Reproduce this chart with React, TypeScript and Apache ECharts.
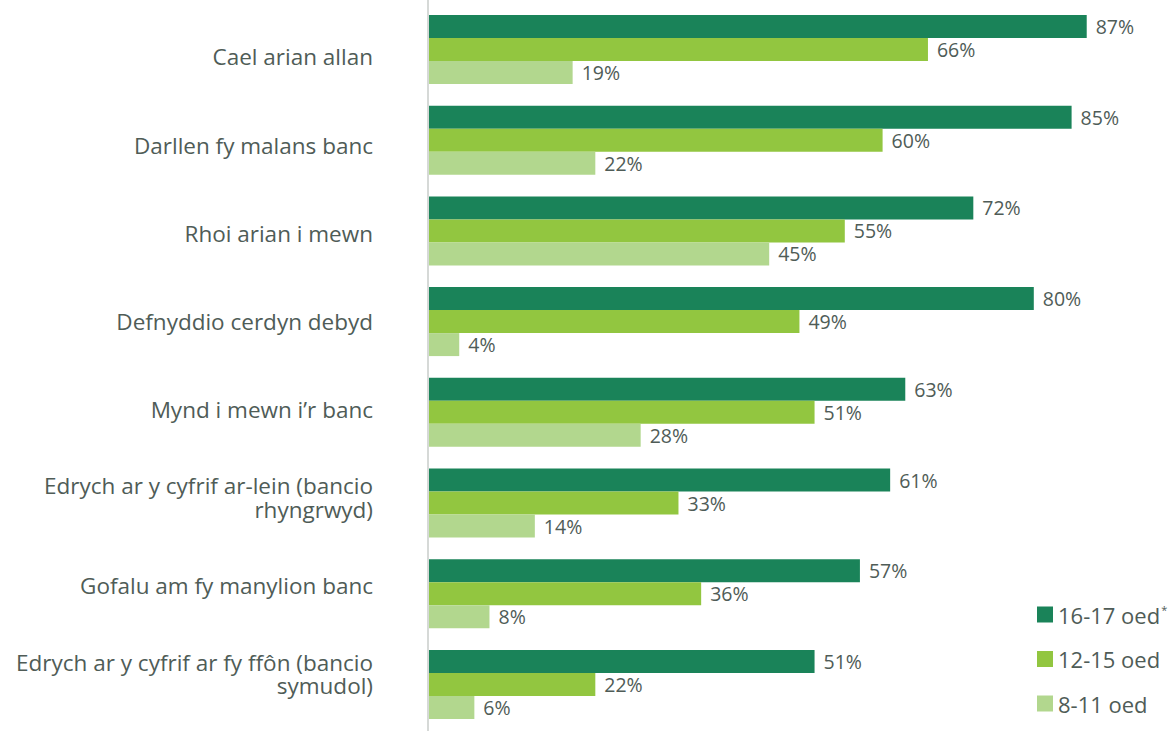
import React, { useEffect, useRef } from "react";
import * as echarts from "echarts";

const categories = [
  "Cael arian allan",
  "Darllen fy malans banc",
  "Rhoi arian i mewn",
  "Defnyddio cerdyn debyd",
  "Mynd i mewn i’r banc",
  "Edrych ar y cyfrif ar-lein (bancio\nrhyngrwyd)",
  "Gofalu am fy manylion banc",
  "Edrych ar y cyfrif ar fy ffôn (bancio\nsymudol)",
];
const seriesNames = ["16-17 oed", "12-15 oed", "8-11 oed"];
const age1617 = [87, 85, 72, 80, 63, 61, 57, 51];
const age1215 = [66, 60, 55, 49, 51, 33, 36, 22];
const age811 = [19, 22, 45, 4, 28, 14, 8, 6];
const colors = ["#1a8359", "#92c640", "#b2d78e"];

const FONT = "'Open Sans', sans-serif";
const TEXT = "#4f5c57";

export default function App() {
  const ref = useRef<HTMLDivElement>(null);
  useEffect(() => {
    const chart = echarts.init(ref.current!, undefined, { renderer: "svg" });
    const values = [age1617, age1215, age811];
    const gridRight = 1172 - 429 - 90 * 7.56;
    chart.setOption({
      animation: false,
      textStyle: { fontFamily: FONT },
      grid: [
        { left: 429, right: gridRight, top: 4.1, bottom: 1.2, containLabel: false },
        { left: 429, right: gridRight, top: 12.9, bottom: 13.1, containLabel: false },
      ],
      xAxis: [
        { type: "value", min: 0, max: 90, show: false, gridIndex: 0 },
        { type: "value", min: 0, max: 90, show: false, gridIndex: 1 },
      ],
      yAxis: [
        {
          type: "category",
          gridIndex: 0,
          data: categories,
          inverse: true,
          axisLine: { show: false },
          axisTick: { show: false },
          axisLabel: { show: false },
        },
        {
          type: "category",
          gridIndex: 1,
          data: categories,
          inverse: true,
          axisLine: { show: false },
          axisTick: { show: false },
          splitLine: { show: false },
          axisLabel: {
            margin: 56,
            fontSize: 22.5,
            lineHeight: 23.5,
            color: TEXT,
            fontFamily: FONT,
            align: "right",
          },
        },
      ],
      legend: {
        orient: "vertical",
        left: 1032,
        top: 598.5,
        itemWidth: 16,
        itemHeight: 16,
        itemGap: 22.5,
        icon: "rect",
        data: seriesNames,
        formatter: (name: string) => (name === "16-17 oed" ? name + "{sup|*}" : name),
        textStyle: {
          fontSize: 22,
          lineHeight: 22,
          color: TEXT,
          fontFamily: FONT,
          rich: {
            sup: { fontSize: 11, lineHeight: 22, verticalAlign: "top", color: TEXT, padding: [0, 0, 10, 1] },
          },
        },
      },
      series: seriesNames.map((name, i) => ({
        name,
        type: "bar",
        xAxisIndex: 0,
        yAxisIndex: 0,
        data: values[i],
        barWidth: 23,
        barGap: "0%",
        itemStyle: { color: colors[i] },
        label: {
          show: true,
          position: "right",
          distance: 9,
          formatter: "{c}%",
          fontSize: 19.5,
          color: TEXT,
          fontFamily: FONT,
        },
      })),
      graphic: [
        {
          type: "rect",
          shape: { x: 427, y: 0, width: 2, height: 731 },
          style: { fill: "#d6d9d7" },
        },
      ],
    });
    return () => chart.dispose();
  }, []);
  return <div ref={ref} style={{ width: 1172, height: 731, position: "absolute", left: 0, top: 0 }} />;
}
